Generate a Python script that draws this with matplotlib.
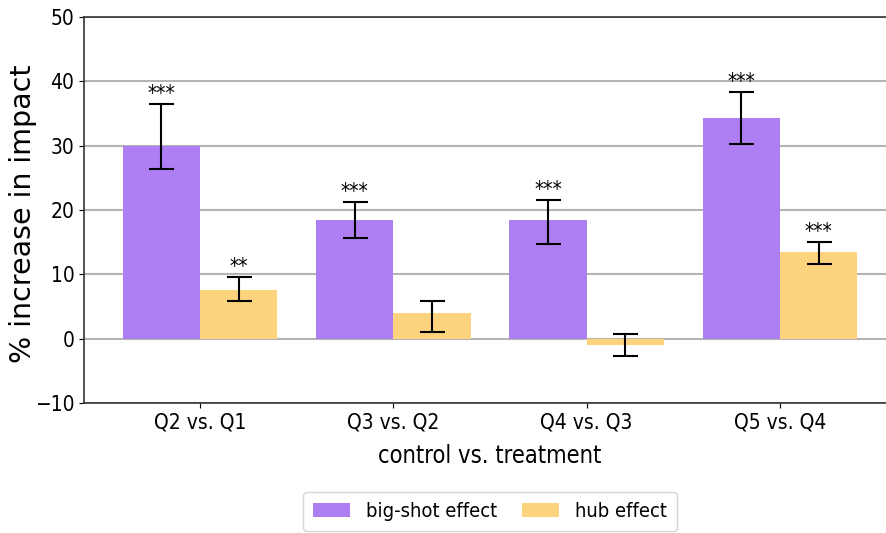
import matplotlib
matplotlib.use("Agg")
import matplotlib.pyplot as plt
import numpy as np

plt.rcParams["font.family"] = ["DejaVu Sans Condensed", "DejaVu Sans"]
plt.rcParams["font.stretch"] = "condensed"

# quartile comparisons (control vs. treatment)
comparisons = ["Q2 vs. Q1", "Q3 vs. Q2", "Q4 vs. Q3", "Q5 vs. Q4"]

# % increase in impact, with lower / upper bounds of the error bars
bigshot = [30.0, 18.4, 18.4, 34.3]
bigshot_lo = [26.3, 15.6, 14.7, 30.3]
bigshot_hi = [36.5, 21.2, 21.5, 38.4]
bigshot_sig = ["***", "***", "***", "***"]

hub = [7.5, 4.0, -1.0, 13.4]
hub_lo = [5.9, 1.1, -2.7, 11.6]
hub_hi = [9.6, 5.9, 0.7, 15.0]
hub_sig = ["**", "", "", "***"]

purple = "#ad7ff2"
orange = "#fdd37e"

fig = plt.figure(figsize=(8.86, 5.33), dpi=100)
ax = fig.add_axes([84 / 886, 1 - 403 / 533, (896 - 84) / 886, (403 - 17) / 533])

x = np.arange(len(comparisons))
w = 0.4

def draw(xs, vals, lo, hi, sig, color, label):
    vals = np.array(vals)
    yerr = [vals - np.array(lo), np.array(hi) - vals]
    ax.bar(xs, vals, w, color=color, label=label, zorder=2)
    ax.errorbar(xs, vals, yerr=yerr, fmt="none", ecolor="black",
                elinewidth=1.5, capsize=9, capthick=1.5, zorder=3)
    for xi, h, s in zip(xs, hi, sig):
        if s:
            ax.text(xi, h, s, ha="center", va="bottom", fontsize=15)

draw(x - w / 2, bigshot, bigshot_lo, bigshot_hi, bigshot_sig, purple, "big-shot effect")
draw(x + w / 2, hub, hub_lo, hub_hi, hub_sig, orange, "hub effect")

ax.set_xlim(-0.6, 3.6)
ax.set_ylim(-10, 50)
ax.set_yticks(range(-10, 51, 10))
ax.set_xticks(x)
ax.set_xticklabels(comparisons)
ax.tick_params(labelsize=15)
ax.yaxis.grid(True, color="#b4b4b4", linewidth=1.5, zorder=0)
ax.set_axisbelow(True)
for sp in ax.spines.values():
    sp.set_color("#333333")
    sp.set_linewidth(1.2)

ax.set_xlabel("control vs. treatment", fontsize=17, labelpad=8)
ax.set_ylabel("% increase in impact", fontsize=20.5,
              family="DejaVu Sans", stretch="normal")
ax.yaxis.set_label_coords(-0.058, 0.49)

fig.legend(loc="center", bbox_to_anchor=(0.553, 0.040), ncol=2, fontsize=14.5,
           handlelength=1.85, columnspacing=1.2, borderpad=0.5, frameon=True)

fig.savefig("out.png", dpi=100)
